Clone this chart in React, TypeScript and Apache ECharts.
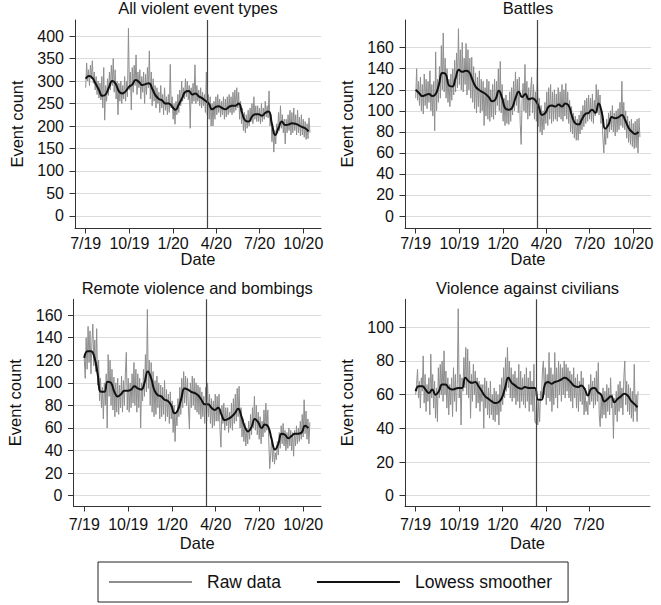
import React, { useEffect, useRef } from 'react';
import * as echarts from 'echarts';

// ---------- data ----------
const dayTicks = [0, 92, 184, 275, 366, 458];
const dayTickLabels = ['7/19', '10/19', '1/20', '4/20', '7/20', '10/20'];
const civDayTicks = [0, 92, 184, 275, 366];
const covidDay = 255; // day index of the vertical reference line (mid March 2020)
const rawStepDays = 2;
const smoothStepDays = 7;

const allTicks = [0, 50, 100, 150, 200, 250, 300, 350, 400];
const battleTicks = [0, 20, 40, 60, 80, 100, 120, 140, 160];
const remoteTicks = [0, 20, 40, 60, 80, 100, 120, 140, 160];
const civTicks = [0, 20, 40, 60, 80, 100];

const allRaw = [
  285, 340, 300, 325, 290, 335, 305, 345, 295, 320,
  280, 310, 270, 300, 262, 295, 258, 310, 240, 330,
  213, 290, 255, 305, 268, 320, 280, 335, 290, 350,
  275, 325, 260, 300, 225, 295, 255, 300, 250, 290,
  260, 310, 255, 300, 265, 417, 280, 320, 236, 330,
  275, 335, 290, 358, 270, 320, 285, 325, 260, 310,
  275, 320, 250, 315, 270, 330, 285, 367, 260, 320,
  245, 305, 255, 290, 240, 285, 250, 275, 230, 290,
  240, 270, 225, 285, 235, 265, 225, 270, 230, 337,
  240, 265, 215, 250, 204, 255, 225, 270, 230, 280,
  245, 300, 255, 285, 260, 305, 265, 300, 258, 290,
  195, 285, 250, 295, 255, 336, 250, 290, 255, 280,
  245, 285, 240, 275, 245, 270, 230, 320, 225, 270,
  215, 265, 200, 250, 200, 255, 215, 265, 225, 270,
  230, 260, 220, 255, 225, 265, 215, 260, 220, 265,
  225, 270, 230, 265, 225, 275, 230, 280, 235, 285,
  240, 275, 215, 255, 205, 240, 190, 230, 185, 225,
  195, 235, 200, 240, 210, 250, 205, 265, 215, 245,
  210, 245, 210, 240, 205, 250, 210, 240, 215, 255,
  220, 245, 218, 278, 200, 225, 165, 195, 142, 190,
  160, 205, 185, 230, 190, 245, 195, 225, 185, 215,
  160, 215, 185, 225, 190, 235, 180, 230, 185, 240,
  190, 225, 180, 235, 185, 220, 178, 225, 180, 215,
  175, 210, 170, 205, 172, 218, 185,
];
const allSmooth = [
  305, 311, 307, 294, 280, 267, 270, 286, 300, 294,
  277, 272, 277, 287, 292, 302, 298, 291, 293, 295,
  283, 268, 260, 257, 250, 250, 243, 236, 248, 262,
  276, 278, 270, 272, 266, 262, 256, 250, 237, 242,
  244, 240, 237, 242, 245, 245, 250, 230, 212, 210,
  221, 226, 226, 223, 229, 232, 205, 180, 196, 210,
  202, 203, 206, 205, 202, 198, 195, 188,
];

const battleRaw = [
  112, 140, 110, 128, 105, 132, 100, 125, 97, 135,
  105, 130, 102, 128, 108, 138, 100, 125, 95, 128,
  81, 156, 100, 130, 108, 142, 112, 162, 120, 174,
  118, 150, 112, 140, 108, 130, 104, 135, 110, 140,
  115, 148, 118, 155, 122, 178, 125, 158, 120, 165,
  118, 150, 125, 164, 115, 158, 120, 150, 112, 151,
  108, 142, 102, 136, 98, 132, 104, 138, 98, 130,
  100, 128, 86, 122, 95, 130, 92, 128, 90, 120,
  94, 125, 92, 130, 96, 128, 105, 140, 100, 147,
  98, 125, 90, 112, 86, 115, 88, 110, 87, 118,
  90, 122, 96, 128, 100, 137, 105, 130, 98, 132,
  88, 68, 110, 126, 100, 144, 98, 128, 92, 122,
  95, 120, 132, 98, 125, 92, 118, 90, 140, 85,
  112, 80, 105, 77, 100, 82, 108, 88, 118, 86,
  122, 92, 125, 88, 118, 90, 120, 92, 116, 90,
  122, 94, 118, 92, 125, 90, 120, 95, 126, 92,
  118, 88, 110, 80, 104, 78, 98, 74, 95, 72,
  92, 72, 96, 78, 100, 82, 105, 85, 110, 88,
  112, 90, 115, 92, 112, 90, 116, 88, 110, 95,
  125, 98, 120, 96, 115, 88, 100, 75, 60, 82,
  68, 92, 74, 98, 80, 100, 82, 105, 80, 98,
  76, 100, 80, 102, 82, 108, 86, 128, 84, 108,
  82, 100, 74, 95, 70, 90, 68, 92, 66, 88,
  64, 90, 65, 92, 60, 93, 75,
];
const battleSmooth = [
  120, 117, 114, 115, 116, 114, 116, 125, 136, 135,
  124, 123, 131, 139, 137, 138, 137, 130, 123, 120,
  118, 116, 113, 109, 111, 119, 112, 102, 101, 103,
  112, 118, 113, 116, 111, 112, 110, 104, 96, 98,
  104, 105, 104, 106, 104, 107, 105, 95, 88, 87,
  92, 97, 98, 101, 98, 107, 98, 83, 87, 94,
  93, 94, 96, 91, 84, 80, 78, 80,
];

const remoteRaw = [
  122, 104, 140, 112, 150, 118, 146, 108, 135, 152,
  115, 138, 110, 148, 98, 120, 84, 104, 78, 96,
  68, 100, 80, 108, 60, 125, 88, 120, 80, 112,
  76, 105, 70, 100, 74, 104, 72, 98, 78, 106,
  74, 102, 80, 108, 127, 76, 104, 74, 100, 78,
  108, 82, 118, 80, 112, 74, 108, 78, 104, 60,
  100, 84, 112, 88, 125, 92, 165, 95, 120, 80,
  118, 74, 110, 70, 102, 72, 106, 78, 100, 68,
  98, 70, 96, 72, 102, 66, 94, 70, 90, 64,
  92, 68, 84, 56, 80, 48, 74, 62, 86, 70,
  96, 72, 104, 78, 110, 82, 106, 80, 104, 76,
  59, 100, 78, 106, 80, 104, 76, 100, 74, 98,
  72, 96, 68, 92, 70, 88, 64, 96, 66, 100,
  70, 90, 64, 86, 60, 84, 62, 90, 66, 88,
  66, 90, 58, 43, 80, 64, 82, 58, 78, 62,
  78, 56, 74, 60, 82, 58, 86, 64, 90, 66,
  95, 70, 97, 60, 78, 52, 68, 48, 64, 44,
  60, 46, 66, 50, 72, 54, 78, 60, 88, 58,
  80, 54, 74, 50, 70, 46, 66, 52, 76, 56,
  82, 58, 76, 50, 24, 36, 52, 30, 44, 28,
  38, 32, 48, 36, 56, 42, 62, 46, 64, 44,
  58, 40, 56, 42, 60, 44, 58, 40, 56, 35,
  58, 44, 62, 46, 60, 48, 66, 50, 72, 52,
  85, 55, 75, 50, 68, 46, 65,
];
const remoteSmooth = [
  122, 128, 128, 123, 108, 92, 92, 101, 100, 92,
  88, 90, 93, 93, 94, 97, 95, 94, 100, 110,
  104, 93, 89, 88, 85, 84, 80, 73, 76, 86,
  95, 94, 92, 91, 89, 85, 81, 81, 78, 76,
  78, 72, 67, 68, 70, 73, 77, 70, 61, 57,
  61, 68, 65, 60, 63, 61, 50, 41, 46, 55,
  54, 51, 53, 55, 55, 56, 62, 60,
];

const civRaw = [
  60, 66, 75, 58, 68, 52, 70, 62, 83, 55,
  72, 50, 66, 56, 70, 48, 84, 58, 72, 52,
  68, 46, 64, 44, 76, 58, 78, 60, 80, 56,
  86, 60, 74, 52, 70, 48, 66, 54, 70, 47,
  76, 56, 72, 50, 66, 111, 58, 72, 42, 70,
  62, 82, 64, 88, 60, 87, 58, 80, 46, 72,
  56, 78, 60, 74, 52, 70, 55, 68, 50, 66,
  56, 66, 40, 70, 52, 68, 48, 64, 46, 68,
  48, 60, 45, 64, 44, 62, 48, 60, 42, 66,
  50, 70, 54, 76, 58, 82, 62, 88, 64, 80,
  58, 76, 56, 72, 58, 74, 54, 70, 56, 78,
  52, 74, 56, 70, 54, 72, 52, 76, 56, 70,
  50, 74, 54, 68, 50, 78, 44, 43, 60, 42,
  56, 44, 62, 58, 74, 80, 60, 76, 54, 72,
  58, 85, 56, 76, 50, 72, 54, 85, 58, 76,
  52, 80, 60, 78, 56, 76, 60, 80, 58, 78,
  62, 76, 58, 74, 56, 72, 52, 76, 58, 70,
  52, 72, 50, 68, 56, 74, 54, 70, 48, 64,
  50, 56, 48, 66, 54, 72, 56, 68, 52, 70,
  54, 74, 56, 79, 48, 41, 60, 46, 64, 48,
  62, 46, 66, 50, 64, 48, 70, 52, 60, 34,
  58, 48, 62, 44, 66, 50, 68, 52, 64, 48,
  70, 80, 54, 68, 50, 66, 48, 64, 46, 62,
  44, 78, 50, 60, 44, 62,
];
const civSmooth = [
  62, 65, 65, 63, 61, 63, 60, 62, 66, 66,
  64, 63, 63.5, 64, 64, 70, 68, 67, 67.5, 65,
  62, 59, 57.5, 56, 55, 55.5, 58, 64, 70, 67,
  65.5, 64, 63.5, 64.5, 64, 64, 64, 57, 57, 66,
  67.5, 66.5, 67.5, 68, 69, 70, 69, 67, 65, 64.5,
  65.5, 63.5, 59.5, 63.5, 64, 61.5, 60, 56, 57.5, 59,
  55.5, 57.5, 59, 60.5, 59.5, 56.5, 54.5, 52.5,
];

// ---------- layout / styles ----------
const FONT = '"Liberation Sans", Arial, Helvetica, sans-serif';
const RAW_COLOR = '#8e8e8e';
const SMOOTH_COLOR = '#111111';
const AXIS_COLOR = '#333333';
const GRID_COLOR = '#dcdcdc';

const panels = [
  {
    title: 'All violent event types', raw: allRaw, smooth: allSmooth, yTicks: allTicks, xTicks: dayTicks,
    grid: { left: 75, top: 20, width: 246, height: 208 }, yMin: -26.7, yMax: 435.6, row: 0,
  },
  {
    title: 'Battles', raw: battleRaw, smooth: battleSmooth, yTicks: battleTicks, xTicks: dayTicks,
    grid: { left: 405, top: 20, width: 246, height: 208 }, yMin: -11.4, yMax: 186.3, row: 0,
  },
  {
    title: 'Remote violence and bombings', raw: remoteRaw, smooth: remoteSmooth, yTicks: remoteTicks, xTicks: dayTicks,
    grid: { left: 73.5, top: 299.3, width: 247.5, height: 206.7 }, yMin: -9.1, yMax: 174, row: 1,
  },
  {
    title: 'Violence against civilians', raw: civRaw, smooth: civSmooth, yTicks: civTicks, xTicks: civDayTicks,
    grid: { left: 405, top: 299.3, width: 245, height: 206.7 }, yMin: -6.1, yMax: 116.6, row: 1,
  },
];

const X_MIN = -22.5;
const X_MAX = 495.3;

function buildOption() {
  const grids: any[] = [];
  const xAxes: any[] = [];
  const yAxes: any[] = [];
  const series: any[] = [];
  const graphics: any[] = [];

  panels.forEach((p, i) => {
    grids.push({ ...p.grid, containLabel: false, outerBoundsMode: 'none' });
    xAxes.push({
      type: 'value', gridIndex: i, min: X_MIN, max: X_MAX,
      axisLine: { show: true, onZero: false, lineStyle: { color: AXIS_COLOR, width: 1 } },
      axisTick: { show: true, length: 5.5, customValues: p.xTicks, lineStyle: { color: AXIS_COLOR, width: 1 } },
      axisLabel: {
        customValues: p.xTicks, fontSize: 16, fontFamily: FONT, color: '#111', margin: p.row === 0 ? 7 : 10,
        formatter: (v: number) => { const k = dayTicks.indexOf(v); return k >= 0 ? dayTickLabels[k] : ''; },
      },
      splitLine: { show: false },
    });
    yAxes.push({
      type: 'value', gridIndex: i, min: p.yMin, max: p.yMax,
      axisLine: { show: true, onZero: false, lineStyle: { color: AXIS_COLOR, width: 1 } },
      axisTick: { show: true, length: 5.5, customValues: p.yTicks, lineStyle: { color: AXIS_COLOR, width: 1 } },
      axisLabel: { customValues: p.yTicks, fontSize: 16, fontFamily: FONT, color: '#111', margin: 11 },
      splitLine: { show: true, lineStyle: { color: GRID_COLOR, width: 1 } },
    });
    series.push({
      type: 'line', name: 'Raw data', xAxisIndex: i, yAxisIndex: i,
      data: p.raw.map((v, k) => [k * rawStepDays, v]),
      symbol: 'none', lineStyle: { color: RAW_COLOR, width: 1 }, itemStyle: { color: RAW_COLOR },
      emphasis: { disabled: true }, silent: true, z: 2,
    });
    series.push({
      type: 'line', name: 'Lowess smoother', xAxisIndex: i, yAxisIndex: i,
      data: p.smooth.map((v, k) => [k * smoothStepDays, v]),
      symbol: 'none', smooth: 0.5, lineStyle: { color: SMOOTH_COLOR, width: 2 }, itemStyle: { color: SMOOTH_COLOR },
      emphasis: { disabled: true }, silent: true, z: 3,
      markLine: {
        silent: true, symbol: ['none', 'none'], label: { show: false },
        lineStyle: { color: '#444', width: 1.2, type: 'solid' },
        emphasis: { disabled: true },
        data: [{ xAxis: covidDay }],
      },
    });

    const cx = p.grid.left + p.grid.width / 2;
    const cy = p.grid.top + p.grid.height / 2;
    graphics.push({
      type: 'text', x: cx, y: p.row === 0 ? 7.7 : 287.6, silent: true,
      style: { text: p.title, fontSize: 16.5, fontFamily: FONT, fill: '#111', align: 'center', verticalAlign: 'middle' },
    });
    graphics.push({
      type: 'text', x: p.grid.left - 58.5, y: cy, rotation: Math.PI / 2, silent: true,
      style: { text: 'Event count', fontSize: 16.5, fontFamily: FONT, fill: '#111', align: 'center', verticalAlign: 'middle' },
    });
    graphics.push({
      type: 'text', x: cx, y: p.row === 0 ? 259 : 542.5, silent: true,
      style: { text: 'Date', fontSize: 16.5, fontFamily: FONT, fill: '#111', align: 'center', verticalAlign: 'middle' },
    });
  });

  return {
    animation: false,
    backgroundColor: '#ffffff',
    grid: grids,
    xAxis: xAxes,
    yAxis: yAxes,
    series,
    legend: {
      data: [
        { name: 'Raw data', icon: 'rect', itemStyle: { color: RAW_COLOR } },
        { name: 'Lowess smoother', icon: 'rect', itemStyle: { color: SMOOTH_COLOR } },
      ],
      left: 98, top: 562,
      padding: [11, 16, 11, 11],
      borderColor: '#222', borderWidth: 1,
      itemGap: 36, itemWidth: 83, itemHeight: 1.8,
      selectedMode: false,
      textStyle: { fontSize: 17.5, fontFamily: FONT, color: '#111', padding: [0, 0, 0, 10] },
    },
    graphic: graphics,
  };
}

export default function App() {
  const ref = useRef<HTMLDivElement>(null);
  useEffect(() => {
    if (!ref.current) return;
    const chart = echarts.init(ref.current, undefined, { renderer: 'svg' });
    chart.setOption(buildOption() as any);
    return () => chart.dispose();
  }, []);
  return (
    <div
      ref={ref}
      style={{ position: 'fixed', left: 0, top: 0, width: 661, height: 605, background: '#fff' }}
    />
  );
}
